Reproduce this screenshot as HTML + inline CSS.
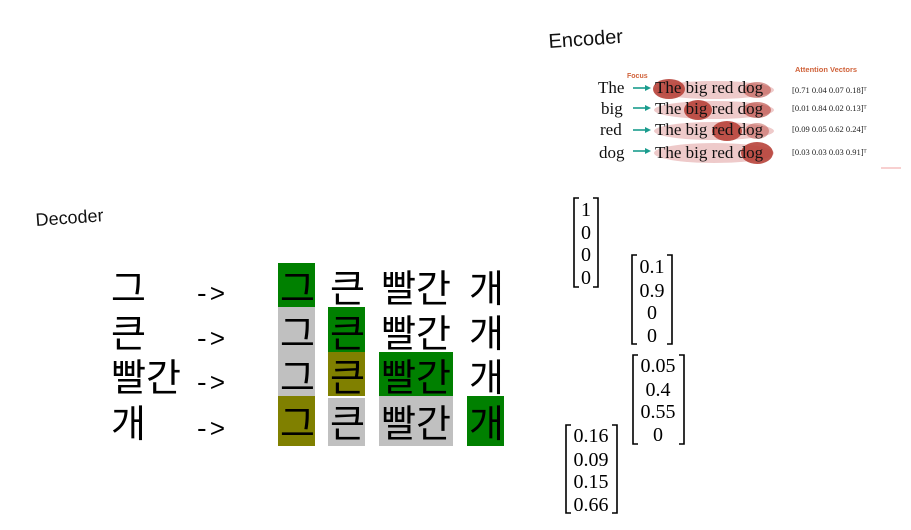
<!DOCTYPE html>
<html><head><meta charset="utf-8"><style>
html,body{margin:0;padding:0;background:#fff;width:911px;height:530px;overflow:hidden}
svg{display:block}
.k{font-family:"Liberation Sans","Noto Sans CJK KR",sans-serif;font-size:38px;fill:#000}
.m{font-family:"Liberation Serif","DejaVu Serif",serif;font-size:20px;fill:#000}
.s{font-family:"Liberation Serif",serif;font-size:17px;fill:#111}
.v{font-family:"Liberation Serif",serif;font-size:8.5px;fill:#222}
</style></head><body>
<svg width="911" height="530" viewBox="0 0 911 530" xmlns="http://www.w3.org/2000/svg">
<text x="549" y="48" transform="rotate(-4 549 48)" font-family="Liberation Sans,DejaVu Sans,sans-serif" font-size="20" fill="#111">Encoder</text>
<text x="36" y="226" transform="rotate(-4 36 226)" font-family="Liberation Sans,DejaVu Sans,sans-serif" font-size="18" fill="#111">Decoder</text>

<!-- encoder attention figure -->
<g fill="#e8b4b4" opacity="0.7">
<ellipse cx="714" cy="90" rx="60" ry="9"/><ellipse cx="714" cy="110" rx="60" ry="9"/>
<ellipse cx="714" cy="131" rx="60" ry="9"/><ellipse cx="714" cy="153" rx="60" ry="10"/>
</g>
<g fill="#b8433a" opacity="0.9">
<ellipse cx="669" cy="89" rx="16" ry="10"/><ellipse cx="757" cy="90" rx="14" ry="8" opacity="0.6"/>
<ellipse cx="698" cy="110" rx="14" ry="10"/><ellipse cx="757" cy="110" rx="14" ry="8" opacity="0.7"/>
<ellipse cx="727" cy="131" rx="15" ry="10"/><ellipse cx="757" cy="131" rx="12" ry="8" opacity="0.5"/>
<ellipse cx="757" cy="153" rx="16" ry="11"/>
</g>
<text x="627" y="78" font-family="Liberation Sans,sans-serif" font-size="7" font-weight="bold" fill="#d0623a">Focus</text>
<text x="795" y="72" font-family="Liberation Sans,sans-serif" font-size="7.5" font-weight="bold" fill="#d0623a">Attention Vectors</text>
<g class="s">
<text x="598" y="93">The</text><text x="601" y="114">big</text><text x="600" y="135">red</text><text x="599" y="158">dog</text>
<text x="655" y="93">The big red dog</text><text x="655" y="114">The big red dog</text>
<text x="655" y="135">The big red dog</text><text x="655" y="158">The big red dog</text>
</g>
<g stroke="#1a9c8e" stroke-width="1.6" fill="#1a9c8e">
<line x1="633" y1="88" x2="648" y2="88"/><polygon points="651,88 645,85 645,91" stroke="none"/>
<line x1="633" y1="108" x2="648" y2="108"/><polygon points="651,108 645,105 645,111" stroke="none"/>
<line x1="633" y1="130" x2="648" y2="130"/><polygon points="651,130 645,127 645,133" stroke="none"/>
<line x1="633" y1="151" x2="648" y2="151"/><polygon points="651,151 645,148 645,154" stroke="none"/>
</g>
<g class="v">
<text x="792" y="93">[0.71   0.04   0.07   0.18]ᵀ</text>
<text x="792" y="111">[0.01   0.84   0.02   0.13]ᵀ</text>
<text x="792" y="132">[0.09   0.05   0.62   0.24]ᵀ</text>
<text x="792" y="155">[0.03   0.03   0.03   0.91]ᵀ</text>
</g>
<line x1="881" y1="168" x2="901" y2="168" stroke="#f0a0a0" stroke-width="1"/>

<!-- decoder grid boxes -->
<rect x="278" y="263" width="37" height="44" fill="#008000"/>
<rect x="278" y="307" width="37" height="89" fill="#c0c0c0"/>
<rect x="278" y="396" width="37" height="50" fill="#808000"/>
<rect x="328" y="307" width="37" height="45" fill="#008000"/>
<rect x="328" y="352" width="37" height="44" fill="#808000"/>
<rect x="328" y="398" width="37" height="48" fill="#c0c0c0"/>
<rect x="379" y="352" width="74" height="44" fill="#008000"/>
<rect x="379" y="396" width="74" height="50" fill="#c0c0c0"/>
<rect x="467" y="396" width="37" height="50" fill="#008000"/>

<g class="k">
<text x="111" y="302">그</text><text x="111" y="347">큰</text><text x="111" y="391">빨간</text><text x="111" y="437">개</text>
<text x="280" y="302">그</text><text x="330" y="302">큰</text><text x="381" y="302">빨간</text><text x="469" y="302">개</text>
<text x="280" y="347">그</text><text x="330" y="347">큰</text><text x="381" y="347">빨간</text><text x="469" y="347">개</text>
<text x="280" y="391">그</text><text x="330" y="391">큰</text><text x="381" y="391">빨간</text><text x="469" y="391">개</text>
<text x="280" y="437">그</text><text x="330" y="437">큰</text><text x="381" y="437">빨간</text><text x="469" y="437">개</text>
</g>
<g font-family="Liberation Mono,monospace" font-size="26" fill="#000">
<text x="194" y="302">-&gt;</text><text x="194" y="347">-&gt;</text><text x="194" y="391">-&gt;</text><text x="194" y="437">-&gt;</text>
</g>

<!-- matrices -->
<g fill="none" stroke="#000" stroke-width="1.6">
<path d="M579 198 H574 V287 H579"/><path d="M593 198 H598 V287 H593"/>
<path d="M637 255 H632 V344 H637"/><path d="M667 255 H672 V344 H667"/>
<path d="M638 355 H633 V444 H638"/><path d="M679 355 H684 V444 H679"/>
<path d="M571 425 H566 V513 H571"/><path d="M612 425 H617 V513 H612"/>
</g>
<g class="m" text-anchor="middle">
<text x="586" y="216">1</text><text x="586" y="239">0</text><text x="586" y="261">0</text><text x="586" y="284">0</text>
<text x="652" y="273">0.1</text><text x="652" y="297">0.9</text><text x="652" y="319">0</text><text x="652" y="342">0</text>
<text x="658" y="372">0.05</text><text x="658" y="396">0.4</text><text x="658" y="418">0.55</text><text x="658" y="441">0</text>
<text x="591" y="442">0.16</text><text x="591" y="466">0.09</text><text x="591" y="488">0.15</text><text x="591" y="511">0.66</text>
</g>
</svg>
</body></html>
